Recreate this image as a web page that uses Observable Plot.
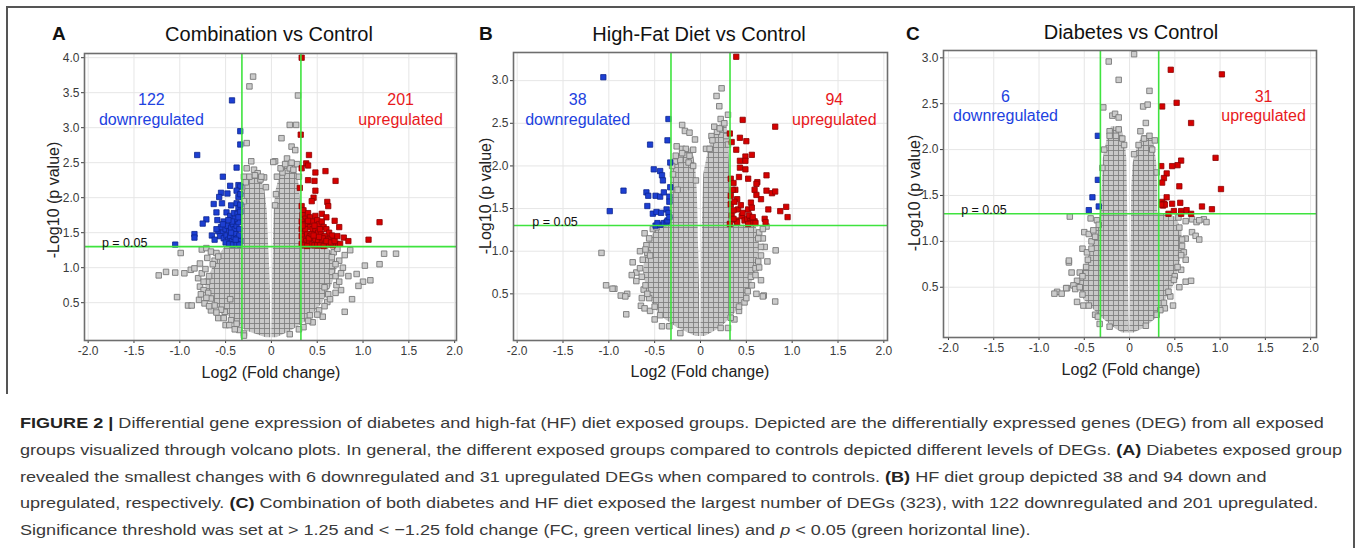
<!DOCTYPE html>
<html><head><meta charset="utf-8">
<script src="https://cdn.jsdelivr.net/npm/d3@7"></script>
<script src="https://cdn.jsdelivr.net/npm/@observablehq/plot@0.6"></script>
<style>
html,body{margin:0;padding:0;background:#fff;}
body{width:1357px;height:548px;position:relative;overflow:hidden;font-family:'Liberation Sans',Arial,sans-serif;}
.abs{position:absolute;}
.bar{position:absolute;background:#555;}
.title{position:absolute;font-size:20px;line-height:20px;color:#111;white-space:nowrap;transform:translate(-50%,-50%);}
.letter{position:absolute;font-size:19px;line-height:19px;font-weight:bold;color:#111;transform:translate(0,-50%);}
.ylab{position:absolute;font-size:16px;line-height:16px;color:#222;white-space:nowrap;transform:translate(-50%,-50%) rotate(-90deg);}
.xlab{position:absolute;font-size:16px;line-height:16px;color:#222;white-space:nowrap;transform:translate(-50%,-50%);}
#cap{position:absolute;left:20px;top:410px;font-family:'Liberation Sans Narrow','Arial Narrow','Liberation Sans',sans-serif;font-size:15.5px;line-height:26.75px;color:#3a3a3a;white-space:nowrap;transform-origin:0 0;}
#cap b{color:#222;}
</style></head><body>
<svg width="0" height="0" style="position:absolute"><defs>
<pattern id="dense" patternUnits="userSpaceOnUse" width="5" height="5"><rect x="0.5" y="0.5" width="5" height="5" fill="#c8c8c8" stroke="#7f7f7f" stroke-width="0.9"/></pattern>
</defs></svg>

<div class="bar" style="left:6px;top:6px;width:1349px;height:2px"></div>
<div class="bar" style="left:6px;top:6px;width:2px;height:388px"></div>
<div class="bar" style="left:1353px;top:6px;width:2px;height:542px"></div>

<div class="letter" style="left:52px;top:32.5px">A</div>
<div class="letter" style="left:479px;top:32.5px">B</div>
<div class="letter" style="left:906px;top:33px">C</div>
<div class="title" style="left:269px;top:34px">Combination vs Control</div>
<div class="title" style="left:699px;top:34px">High-Fat Diet vs Control</div>
<div class="title" style="left:1131px;top:31.5px">Diabetes vs Control</div>
<div class="ylab" style="left:53.5px;top:200px">-Log10 (p value)</div>
<div class="ylab" style="left:485.5px;top:196px">-Log10 (p value)</div>
<div class="ylab" style="left:914.5px;top:192.5px">-Log10 (p value)</div>
<div class="xlab" style="left:271px;top:373px">Log2 (Fold change)</div>
<div class="xlab" style="left:700px;top:372px">Log2 (Fold change)</div>
<div class="xlab" style="left:1131px;top:370px">Log2 (Fold change)</div>

<div id="pA" class="abs" style="left:44px;top:43px"></div>
<div id="pB" class="abs" style="left:473px;top:42px"></div>
<div id="pC" class="abs" style="left:903px;top:40px"></div>

<div id="cap">
<span id="l1"><b>FIGURE 2 |</b> Differential gene expression of diabetes and high-fat (HF) diet exposed groups. Depicted are the differentially expressed genes (DEG) from all exposed</span><br>
<span id="l2">groups visualized through volcano plots. In general, the different exposed groups compared to controls depicted different levels of DEGs. <b>(A)</b> Diabetes exposed group</span><br>
<span>revealed the smallest changes with 6 downregulated and 31 upregulated DEGs when compared to controls. <b>(B)</b> HF diet group depicted 38 and 94 down and</span><br>
<span>upregulated, respectively. <b>(C)</b> Combination of both diabetes and HF diet exposed the largest number of DEGs (323), with 122 downregulated and 201 upregulated.</span><br>
<span>Significance threshold was set at &gt; 1.25 and &lt; −1.25 fold change (FC, green vertical lines) and <i>p</i> &lt; 0.05 (green horizontal line).</span>
</div>

<script>
// ---------- data ----------
const xTicks = [-2, -1.5, -1, -0.5, 0, 0.5, 1, 1.5, 2];
const yTicksA = [0.5, 1, 1.5, 2, 2.5, 3, 3.5, 4];
const yTicksB = [0.5, 1, 1.5, 2, 2.5, 3];
const yTicksC = [0.5, 1, 1.5, 2, 2.5, 3];
const fcThreshold = 0.322;   // log2(1.25)
const pThreshold = 1.301;    // -log10(0.05)
const titles = ["Combination vs Control", "High-Fat Diet vs Control", "Diabetes vs Control"];
const downCounts = [122, 38, 6];
const upCounts = [201, 94, 31];

// dense core envelopes: [y, xLeft, xRight]
const coreA_left = [[0.00,-0.06,-0.005],[0.10,-0.28,-0.005],[0.25,-0.42,-0.008],[0.50,-0.64,-0.01],[0.75,-0.72,-0.015],[1.00,-0.64,-0.02],[1.20,-0.56,-0.025],[1.30,-0.50,-0.03],[1.31,-0.33,-0.03],[1.80,-0.33,-0.045],[2.10,-0.32,-0.07],[2.22,-0.27,-0.10],[2.28,-0.20,-0.14]];
const coreA_right = [[0.00,0.005,0.06],[0.10,0.005,0.22],[0.25,0.008,0.40],[0.50,0.01,0.56],[0.75,0.012,0.66],[1.00,0.015,0.72],[1.20,0.02,0.68],[1.30,0.02,0.60],[1.31,0.02,0.32],[1.80,0.03,0.32],[2.10,0.05,0.31],[2.30,0.09,0.29],[2.45,0.15,0.26]];
const coreB_left = [[0.00,-0.05,-0.005],[0.10,-0.25,-0.005],[0.25,-0.45,-0.008],[0.50,-0.58,-0.01],[0.75,-0.62,-0.015],[1.00,-0.60,-0.02],[1.20,-0.52,-0.025],[1.30,-0.45,-0.025],[1.31,-0.33,-0.025],[1.70,-0.33,-0.035],[1.95,-0.32,-0.05],[2.10,-0.26,-0.07],[2.20,-0.18,-0.10]];
const coreB_right = [[0.00,0.005,0.05],[0.10,0.005,0.22],[0.25,0.008,0.36],[0.50,0.01,0.52],[0.75,0.012,0.60],[1.00,0.015,0.64],[1.20,0.02,0.64],[1.30,0.02,0.60],[1.31,0.02,0.32],[1.90,0.035,0.32],[2.20,0.09,0.31],[2.40,0.16,0.30],[2.50,0.22,0.28]];
const coreC_left = [[0.00,-0.08,-0.005],[0.05,-0.16,-0.005],[0.17,-0.31,-0.008],[0.36,-0.50,-0.01],[0.54,-0.58,-0.012],[0.72,-0.50,-0.015],[0.90,-0.42,-0.015],[1.10,-0.37,-0.02],[1.30,-0.32,-0.02],[1.60,-0.30,-0.025],[1.90,-0.29,-0.03],[2.10,-0.25,-0.05],[2.25,-0.20,-0.09]];
const coreC_right = [[0.00,0.00,0.05],[0.05,0.005,0.16],[0.17,0.008,0.31],[0.36,0.01,0.40],[0.54,0.012,0.50],[0.72,0.015,0.55],[0.90,0.015,0.58],[1.10,0.02,0.58],[1.26,0.02,0.52],[1.30,0.02,0.40],[1.31,0.02,0.31],[1.60,0.025,0.31],[1.85,0.04,0.30],[2.00,0.08,0.28],[2.15,0.14,0.25]];

// scattered non-significant genes [log2FC, -log10 p]
const grayA = [[-0.20,3.73],[-0.24,3.59],[0.29,3.46],[0.20,3.04],[0.27,3.04],[0.11,2.85],[-0.27,2.78],[0.22,2.73],[0.26,2.68],[0.04,2.52],[0.17,2.56],[-0.22,2.52],[0.02,2.51],[0.20,2.42],[0.24,2.40],[-0.27,2.42],[-0.19,2.40],[-0.15,2.35],[-0.08,2.29],[0.04,1.89],[-0.30,2.30],[-0.12,2.26],[0.12,2.36],[0.28,2.48],
[-0.32,2.15],[-0.28,2.22],[-0.24,2.30],[-0.18,2.32],[-0.11,2.30],[-0.30,1.95],[-0.06,2.15],[0.06,2.30],[0.10,2.42],[0.15,2.48],[0.22,2.50],[0.30,2.30],[0.05,2.05],
[-0.76,1.26],[-0.71,1.28],[-0.66,1.23],[-0.60,1.21],[-0.99,1.21],[-1.23,0.89],[-1.15,0.94],[-1.05,0.93],[-0.95,0.92],[-0.88,0.97],[-0.84,0.99],[-0.78,1.06],[-0.78,0.73],[-0.74,0.68],[-0.69,0.64],[-1.03,0.58],[-0.91,0.46],[-0.87,0.46],[-0.79,0.54],[-0.73,0.49],[-0.66,0.39],[-0.58,0.28],[-0.51,0.37],[-0.44,0.25],[-0.38,0.20],[-0.35,0.11],
[-0.70,1.14],[-0.62,1.10],[-0.80,0.85],[-0.76,0.92],[-0.70,0.80],[-0.66,0.56],[-0.62,0.46],[-0.55,0.40],[-0.50,0.18],[-0.30,0.06],[-0.45,0.55],
[-0.58,1.16],[-0.64,1.05],[-0.72,0.98],[-0.68,0.88],[-0.74,0.80],[-0.77,0.62],[-0.71,0.57],[-0.68,0.45],[-0.60,0.36],[-0.52,0.28],[-0.46,0.18],[-0.40,0.12],[-0.30,0.03],
[0.86,1.25],[0.80,1.18],[1.23,1.20],[1.36,1.20],[1.02,1.03],[1.18,1.05],[0.93,0.91],[0.84,0.88],[1.00,0.80],[1.08,0.82],[0.95,0.74],[0.76,0.68],[0.71,0.75],[0.88,0.55],[0.80,0.37],[0.61,0.51],[0.52,0.39],[0.42,0.32],
[0.74,1.10],[0.78,1.00],[0.68,1.22],[0.72,1.27],[0.62,0.62],[0.58,0.72],[0.45,0.22],[0.35,0.15],[0.66,0.94],[0.70,0.88],[0.56,0.30],
[0.66,1.15],[0.70,1.05],[0.76,0.92],[0.74,0.80],[0.70,0.64],[0.64,0.55],[0.58,0.45],[0.50,0.33],[0.40,0.24],[0.30,0.12],[0.20,0.05]];
const grayB = [[-1.08,0.98],[-1.03,0.60],[-0.94,0.56],[-0.87,0.48],[-0.80,0.50],[-0.81,0.26],[-0.74,0.87],[-0.70,0.75],[-0.75,0.72],[-0.61,1.21],[-0.59,1.07],[-0.58,0.98],[-0.55,0.95],[-0.65,0.36],[-0.61,0.33],[-0.55,0.30],[-0.66,1.00],[-0.70,0.65],[-0.52,1.26],[-0.48,1.28],[-0.62,0.55],[-0.56,0.45],[-0.50,0.20],[-0.42,0.12],[-0.66,0.80],[-0.96,0.56],[-0.82,0.47],[-0.64,0.45],
[-0.56,1.15],[-0.60,1.02],[-0.63,0.90],[-0.64,0.70],[-0.60,0.60],[-0.58,0.50],[-0.50,0.35],[-0.44,0.25],[-0.34,0.12],[-0.22,0.04],
[-0.20,2.48],[-0.17,2.41],[-0.12,2.39],[-0.06,2.31],[-0.26,2.23],[-0.20,2.20],[-0.16,2.20],[-0.08,2.19],[-0.22,2.07],[-0.13,2.04],[-0.08,2.00],[-0.05,1.83],[-0.30,1.90],[-0.28,2.05],[-0.25,1.72],
[-0.31,2.00],[-0.27,2.12],[-0.20,2.15],[-0.12,2.12],[0.06,2.20],[0.12,2.35],[0.18,2.40],[0.30,2.25],
[0.23,2.91],[0.175,2.82],[0.205,2.70],[0.30,2.60],[0.22,2.55],[0.15,2.46],[0.21,2.44],[0.26,2.50],[0.13,2.30],[0.10,2.20],[0.28,2.35],
[0.72,1.29],[0.82,1.01],[0.73,0.88],[0.66,0.66],[0.61,0.50],[0.69,0.48],[0.815,0.41],[0.515,0.53],[0.42,0.30],[0.37,0.20],[0.30,0.10],[0.68,1.15],[0.70,1.05],[0.64,1.22],[0.60,0.80],[0.55,0.70],[0.48,0.40],[0.66,0.95],[0.68,1.26],[0.64,0.81],[0.68,0.47],
[0.63,1.15],[0.66,1.05],[0.63,0.88],[0.60,0.72],[0.56,0.60],[0.50,0.45],[0.42,0.35],[0.33,0.22],[0.22,0.10]];
const grayC = [[-0.23,2.96],[-0.12,2.76],[-0.29,2.46],[-0.19,2.37],[-0.16,2.39],[-0.12,2.35],[-0.22,2.20],[-0.15,2.15],[-0.08,2.12],
[-0.30,1.80],[-0.28,2.00],[-0.22,2.15],[-0.12,2.22],[-0.06,2.05],[0.05,1.95],[0.10,2.05],[0.16,2.12],[0.25,2.00],[0.30,1.75],
[-0.66,1.27],[-0.43,1.25],[-0.36,1.23],[-0.50,1.10],[-0.45,1.08],[-0.40,1.12],[-0.52,0.92],[-0.47,0.88],[-0.67,0.77],[-0.64,0.66],[-0.58,0.57],[-0.80,0.45],[-0.75,0.43],[-0.69,0.49],[-0.58,0.34],[-0.51,0.30],[-0.83,0.43],[-0.70,0.49],[-0.67,0.79],[-0.55,0.66],[-0.62,0.52],[-0.48,0.72],[-0.42,1.00],[-0.38,0.20],[-0.33,0.10],[-0.60,0.48],
[-0.34,1.18],[-0.38,1.05],[-0.42,0.92],[-0.46,0.80],[-0.52,0.62],[-0.55,0.50],[-0.52,0.42],[-0.45,0.30],[-0.35,0.18],[-0.22,0.07],
[0.05,3.04],[0.22,2.64],[0.15,2.47],[0.20,2.49],[0.18,2.29],[0.12,2.20],[0.22,2.15],[0.28,2.10],
[0.54,1.26],[0.62,1.22],[0.69,1.24],[0.74,1.21],[0.82,1.24],[0.85,1.21],[0.77,1.23],[0.69,1.10],[0.73,1.06],[0.77,1.02],[0.62,1.03],[0.62,0.80],[0.57,0.69],[0.62,0.56],[0.68,0.57],[0.48,0.30],[0.39,0.27],[0.34,0.25],[0.58,0.95],[0.60,0.88],[0.50,0.62],[0.55,0.50],[0.45,0.40],
[0.55,1.15],[0.58,1.02],[0.57,0.85],[0.53,0.72],[0.49,0.58],[0.43,0.45],[0.38,0.33],[0.30,0.20],[0.18,0.08]];

// significant genes
const blueA = [[-0.43,3.39],[-0.34,2.95],[-0.34,2.76],[-0.81,2.61],[-0.38,2.43],[-0.53,2.30],[-0.45,2.17],[-0.36,2.18],[-0.34,2.16],[-0.55,2.07],[-0.57,2.01],[-0.48,2.06],[-0.38,2.10],[-0.36,2.01],[-0.63,1.91],[-0.54,1.92],[-0.44,1.89],[-0.38,1.92],[-0.36,1.85],[-0.71,1.69],[-0.75,1.63],[-0.60,1.79],[-0.49,1.79],[-0.45,1.74],[-0.41,1.78],[-0.37,1.77],[-0.59,1.68],[-0.52,1.66],[-0.84,1.48],[-0.84,1.43],[-0.65,1.46],[-1.05,1.33],
[-0.58,1.52],[-0.55,1.58],[-0.53,1.50],[-0.50,1.55],[-0.48,1.60],[-0.46,1.52],[-0.44,1.57],[-0.42,1.62],[-0.40,1.55],[-0.38,1.60],[-0.36,1.65],[-0.35,1.55],[-0.56,1.45],[-0.52,1.42],[-0.49,1.46],[-0.47,1.40],[-0.45,1.45],[-0.43,1.38],[-0.41,1.44],[-0.39,1.48],[-0.37,1.42],[-0.35,1.46],[-0.34,1.38],[-0.50,1.36],[-0.46,1.34],[-0.42,1.33],[-0.38,1.34],[-0.35,1.33],[-0.40,1.70],[-0.43,1.66],[-0.47,1.68],[-0.36,1.72],[-0.34,1.80],[-0.34,1.90],[-0.34,2.05],[-0.62,1.40],[-0.60,1.55],[-0.44,1.50],[-0.39,1.40],[-0.53,1.62]];
const redA = [[0.33,4.00],[0.32,2.90],[0.41,2.61],[0.38,2.49],[0.40,2.46],[0.33,2.42],[0.48,2.36],[0.59,2.38],[0.70,2.24],[0.40,2.25],[0.47,2.24],[0.31,2.14],[0.48,2.10],[0.46,2.00],[0.44,1.95],[0.61,1.94],[0.62,1.88],[0.33,1.88],[0.35,1.82],[0.55,1.77],[0.60,1.72],[0.69,1.67],[0.74,1.58],[1.18,1.65],[1.06,1.40],[0.79,1.43],[0.84,1.38],[0.64,1.42],[0.67,1.42],[0.71,1.34],[0.75,1.34],
[0.34,1.75],[0.37,1.70],[0.40,1.78],[0.42,1.72],[0.45,1.66],[0.48,1.74],[0.50,1.68],[0.52,1.62],[0.55,1.66],[0.57,1.58],[0.60,1.55],[0.63,1.50],[0.66,1.46],[0.33,1.66],[0.36,1.62],[0.39,1.60],[0.42,1.58],[0.45,1.55],[0.48,1.52],[0.51,1.50],[0.54,1.48],[0.58,1.45],[0.62,1.40],[0.33,1.55],[0.36,1.50],[0.39,1.48],[0.42,1.45],[0.45,1.42],[0.48,1.40],[0.51,1.38],[0.55,1.36],[0.59,1.35],[0.63,1.33],[0.67,1.32],[0.33,1.45],[0.35,1.40],[0.38,1.38],[0.41,1.35],[0.44,1.33],[0.47,1.32],[0.50,1.32],[0.53,1.32],[0.57,1.31],[0.33,1.34],[0.36,1.32],[0.39,1.31],[0.41,1.42],[0.44,1.48],[0.37,1.55],[0.34,1.60],[0.47,1.60],[0.40,1.67],[0.53,1.55],[0.56,1.42],[0.60,1.38],[0.65,1.36],[0.69,1.38],[0.72,1.45],[0.52,1.44],[0.46,1.46]];
const blueB = [[-1.06,3.04],[-0.35,2.55],[-0.36,2.30],[-0.55,2.25],[-0.33,2.04],[-0.51,1.96],[-0.44,1.94],[-0.42,1.89],[-0.41,1.83],[-0.84,1.71],[-0.59,1.69],[-0.57,1.65],[-0.49,1.65],[-0.44,1.64],[-0.40,1.69],[-0.34,1.64],[-0.58,1.53],[-0.99,1.47],[-0.52,1.44],[-0.48,1.46],[-0.43,1.45],[-0.37,1.49],[-0.35,1.45],[-0.49,1.30],[-0.44,1.31],[-0.40,1.33],[-0.37,1.34],[-0.34,1.58],[-0.36,1.36],[-0.47,1.33],[-0.33,1.75],[-0.34,1.40]];
const redB = [[0.39,3.28],[0.46,2.54],[0.815,2.46],[0.32,2.38],[0.34,2.28],[0.43,2.33],[0.50,2.29],[0.39,2.19],[0.56,2.13],[0.49,2.11],[0.43,2.06],[0.49,2.06],[0.43,1.98],[0.49,1.96],[0.72,1.89],[0.42,1.87],[0.52,1.85],[0.33,1.85],[0.36,1.80],[0.62,1.81],[0.61,1.79],[0.38,1.72],[0.59,1.72],[0.72,1.71],[0.78,1.68],[0.815,1.70],[0.33,1.65],[0.40,1.61],[0.55,1.57],[0.66,1.61],[0.61,1.66],[0.41,1.49],[0.52,1.49],[0.56,1.51],[0.74,1.49],[0.87,1.47],[0.935,1.52],[0.95,1.40],[0.34,1.42],[0.39,1.36],[0.45,1.41],[0.48,1.36],[0.51,1.38],[0.54,1.35],[0.57,1.36],[0.59,1.35],[0.70,1.38],[0.71,1.34],[0.32,1.32],[0.40,1.34],[0.36,1.38],[0.33,1.55],[0.35,1.72],[0.37,1.58],[0.44,1.54],[0.46,1.45],[0.53,1.42],[0.55,1.33],[0.57,1.40],[0.60,1.33],[0.52,1.32],[0.36,1.48]];
const blueC = [[-0.35,2.15],[-0.35,1.67],[-0.41,1.48],[-0.34,1.38],[-0.45,1.34]];
const redC = [[0.455,2.87],[1.02,2.82],[0.52,2.51],[0.36,2.47],[0.68,2.29],[0.95,1.91],[0.57,1.88],[0.53,1.83],[0.47,1.82],[0.35,1.82],[0.41,1.74],[0.38,1.69],[0.36,1.64],[0.55,1.60],[1.01,1.57],[0.41,1.48],[0.36,1.43],[0.38,1.41],[0.37,1.39],[0.39,1.40],[0.47,1.41],[0.56,1.42],[0.80,1.38],[0.91,1.35],[0.43,1.30],[0.49,1.33],[0.57,1.33],[0.63,1.34],[0.68,1.30],[0.57,1.30],[0.35,1.40]];

// ---------- drawing ----------
const fmtX = d => d === 0 ? "0" : d.toFixed(1);
const fmtY = d => d.toFixed(1);
const GREEN = "#3fe33f";

function volcano(p) {
  return Plot.plot({
    width: p.width, height: p.height,
    marginLeft: 40, marginRight: 10, marginTop: 10, marginBottom: 30,
    style: {fontFamily: "'Liberation Sans', Arial, sans-serif", fontSize: "12px", color: "#3a3a3a", background: "transparent", overflow: "visible"},
    x: {domain: p.xDomain},
    y: {domain: p.yDomain},
    marks: [
      Plot.gridX(xTicks, {stroke: "#e6e6e6", strokeOpacity: 1}),
      Plot.gridY(p.yTicks, {stroke: "#e6e6e6", strokeOpacity: 1}),
      Plot.areaX(p.coreL, {y: d => d[0], x1: d => d[1], x2: d => d[2], fill: "url(#dense)"}),
      Plot.areaX(p.coreR, {y: d => d[0], x1: d => d[1], x2: d => d[2], fill: "url(#dense)"}),
      Plot.dot(p.gray, {x: d => d[0], y: d => d[1], symbol: "square", r: 3.1, fill: "#cbcbcb", stroke: "#787878", strokeWidth: 0.9}),
      Plot.dot(p.blue, {x: d => d[0], y: d => d[1], symbol: "square", r: 3.0, fill: "#1d3fd2", stroke: "#0c2690", strokeWidth: 0.8}),
      Plot.dot(p.red, {x: d => d[0], y: d => d[1], symbol: "square", r: 3.0, fill: "#d60000", stroke: "#8c0000", strokeWidth: 0.8}),
      Plot.ruleX([-fcThreshold, fcThreshold], {stroke: GREEN, strokeWidth: 1.6}),
      Plot.ruleY([pThreshold], {stroke: GREEN, strokeWidth: 1.6}),
      Plot.text([{x: p.downX, y: p.labelY, t: p.down + "\ndownregulated"}], {x: "x", y: "y", text: "t", fill: "#2142e0", fontSize: 16, lineHeight: 1.2}),
      Plot.text([{x: p.upX, y: p.labelY, t: p.up + "\nupregulated"}], {x: "x", y: "y", text: "t", fill: "#e8191c", fontSize: 16, lineHeight: 1.2}),
      Plot.text([{x: p.pX, y: pThreshold, t: "p = 0.05"}], {x: "x", y: "y", text: "t", textAnchor: "start", lineAnchor: "bottom", fill: "#111", fontSize: 12.5}),
      Plot.axisX(xTicks, {tickSize: 3, tickPadding: 3, tickFormat: fmtX, fontSize: 12, label: null}),
      Plot.axisY(p.yTicks, {tickSize: 3, tickPadding: 2, tickFormat: fmtY, fontSize: 12, label: null}),
      Plot.frame({stroke: "#6e6e6e", strokeWidth: 1.6})
    ]
  });
}

document.getElementById("pA").appendChild(volcano({
  width: 422, height: 327, xDomain: [-2.04, 2.02], yDomain: [-0.04, 4.06], yTicks: yTicksA,
  coreL: coreA_left, coreR: coreA_right, gray: grayA, blue: blueA, red: redA,
  down: downCounts[0], up: upCounts[0], downX: -1.31, upX: 1.41, labelY: 3.27, pX: -1.85
}));
document.getElementById("pB").appendChild(volcano({
  width: 424, height: 328, xDomain: [-2.04, 2.04], yDomain: [-0.047, 3.33], yTicks: yTicksB,
  coreL: coreB_left, coreR: coreB_right, gray: grayB, blue: blueB, red: redB,
  down: downCounts[1], up: upCounts[1], downX: -1.34, upX: 1.46, labelY: 2.67, pX: -1.835
}));
document.getElementById("pC").appendChild(volcano({
  width: 423, height: 327, xDomain: [-2.055, 2.065], yDomain: [-0.048, 3.08], yTicks: yTicksC,
  coreL: coreC_left, coreR: coreC_right, gray: grayC, blue: blueC, red: redC,
  down: downCounts[2], up: upCounts[2], downX: -1.37, upX: 1.48, labelY: 2.48, pX: -1.86
}));

// fit caption lines to the original's narrow typeface width
const cap = document.getElementById("cap");
const w2 = document.getElementById("l2").getBoundingClientRect().width;
cap.style.transform = "scaleX(" + (1322 / w2) + ")";
</script>
</body></html>
